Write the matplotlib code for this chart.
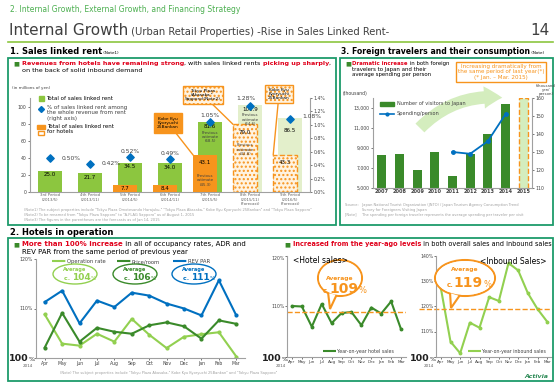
import numpy as np
import matplotlib.pyplot as plt
from matplotlib.patches import Rectangle, Ellipse, FancyArrowPatch, Polygon
from matplotlib.transforms import Affine2D
from matplotlib.lines import Line2D

# ---------------- data ----------------
periods = ["3rd Period\n(2013/5)", "4th Period\n(2013/11)", "5th Period\n(2014/5)",
           "6th Period\n(2014/11)", "7th Period\n(2015/5)",
           "8th Period\n(2015/11)\n(Forecast)", "9th Period\n(2016/5)\n(Forecast)"]
linked_rent = [25.0, 21.7, 34.5, 34.0, 81.6, 101.9, 86.5]
hotel_rent = [0, 0, 7.7, 8.4, 43.1, 79.0, 43.3]
rent_share = [0.50, 0.42, 0.52, 0.49, 1.05, 1.28, 1.08]
prev_total = [None, None, None, None, "68.5", "64.6", None]
prev_hotel = [None, None, None, None, "45.3", "42.8", None]
is_forecast = [False, False, False, False, False, True, True]

years = ["2007", "2008", "2009", "2010", "2011", "2012", "2013", "2014", "2015"]
visitors = [8347, 8351, 6790, 8611, 6219, 8358, 10364, 13413, 14000]
spending = [np.nan, np.nan, np.nan, np.nan, 130, 129, 136, 151, np.nan]

months = ["Apr", "May", "Jun", "Jul", "Aug", "Sep", "Oct", "Nov", "Dec", "Jan", "Feb", "Mar"]
occupancy = [108.8, 102.9, 102.5, 104.9, 103.3, 107.9, 104.7, 102.0, 104.3, 104.8, 105.2, 100.3]
price_room = [102.1, 109.1, 103.3, 106.1, 105.3, 104.9, 106.6, 107.2, 106.4, 103.9, 107.6, 106.9]
rev_par = [111.3, 113.6, 107.0, 111.6, 110.3, 113.2, 112.6, 111.0, 110.0, 108.6, 115.7, 108.6]
hotel_sales = [110.1, 110.0, 106.0, 110.5, 106.7, 108.7, 108.9, 106.3, 109.8, 108.6, 111.0, 105.5]
inbound_sales = [127.3, 106.1, 101.5, 113.6, 111.6, 123.7, 122.2, 137.2, 134.3, 125.3, 119.0, 114.0]
hotel_avg = 109
inbound_avg = 119

# ---------------- colours ----------------
GREEN = "#8cc63f"
LIGHT = "#e3efcb"
DARK = "#3a8a2a"
ORANGE = "#f7941d"
BLUE = "#0070c0"
FRAME = "#1e9b6b"
RED = "#e0001b"

W, H = 560, 388
fig = plt.figure(figsize=(5.6, 3.88), dpi=100)
T = Affine2D().scale(1 / W, -1 / H).translate(0, 1) + fig.transFigure


def px(x, y, w, h):
    return [x / W, 1 - (y + h) / H, w / W, h / H]


def txt(x, y, s, **kw):
    return fig.text(x, y, s, transform=T, **kw)


def rich(x, y, parts, size):
    r = fig.canvas.get_renderer()
    for s, kw in parts:
        opts = dict(fontsize=size, va="baseline")
        opts.update(kw)
        t = txt(x, y, s, **opts)
        x += t.get_window_extent(r).width * W / fig.bbox.width


def frame(x, y, w, h):
    fig.add_artist(Rectangle((x, y), w, h, transform=T, fill=False, ec=FRAME, lw=1.3))


def style(ax):
    ax.set_facecolor("none")
    for s in ["top", "right"]:
        ax.spines[s].set_visible(False)
    ax.spines["left"].set_color("#a0a0a0")
    ax.spines["bottom"].set_color("#a0a0a0")
    ax.tick_params(labelsize=3.3, colors="#404040", length=1.5, width=0.5, pad=1)


def right_axis(ax):
    axr = ax.twinx()
    axr.set_facecolor("none")
    for s in ["top", "left", "bottom"]:
        axr.spines[s].set_visible(False)
    axr.spines["right"].set_color("#a0a0a0")
    axr.tick_params(labelsize=3.3, colors="#404040", length=1.5, width=0.5, pad=1)
    return axr


def hundred(x, y):
    rich(x, y, [("100", dict(weight="bold", color="#202020")),
                ("%", dict(fontsize=4.5, color="#202020"))], 6.8)
    txt(x + 14, y + 6, "2014", fontsize=3, color="#606060", va="baseline")


# ---------------- header ----------------
txt(10, 12, "2. Internal Growth, External Growth, and Financing Strategy",
    fontsize=5.5, color="#4caf50", va="baseline")
rich(9, 35, [("Internal Growth", dict(color="#404040")),
             (" (Urban Retail Properties) -Rise in Sales Linked Rent-",
              dict(color="#404040", fontsize=7.2))], 11)
txt(550, 35, "14", fontsize=11, color="#404040", ha="right", va="baseline")
fig.add_artist(Line2D([8, 553], [42, 42], transform=T, color=GREEN, lw=1.2))

# ---------------- section 1: sales linked rent ----------------
rich(10, 54, [("1. Sales linked rent", dict(weight="bold")),
              (" (Note1)", dict(fontsize=3))], 6)
frame(8, 58, 328, 167)
txt(13, 65, "■", fontsize=4.5, color=DARK, va="baseline")
rich(22, 65, [("Revenues from hotels have remaining strong", dict(color=RED, weight="bold")),
              (", with sales linked rents ", {}),
              ("picking up sharply", dict(color=RED, weight="bold")),
              (",", {})], 4.6)
txt(22, 72, "on the back of solid inbound demand", fontsize=4.6, va="baseline")
txt(12, 89, "(in millions of yen)", fontsize=3, color="#404040", va="baseline")

ax1 = fig.add_axes(px(30, 98, 280, 94))
style(ax1)
x = np.arange(len(periods))
gcol = [LIGHT if f else GREEN for f in is_forecast]
ax1.bar(x, linked_rent, width=0.62, color=gcol, zorder=2)
for i, h in enumerate(hotel_rent):
    if h <= 0:
        continue
    if is_forecast[i]:
        ax1.bar(x[i] - 0.12, h, width=0.6, color="#fff3e0", ec=ORANGE, ls="--",
                lw=1, hatch="....", zorder=3)
    else:
        ax1.bar(x[i] - 0.12, h, width=0.6, color=ORANGE, zorder=3)
for i, v in enumerate(linked_rent):
    y0 = v - 2 if i != 6 else v - 12
    ax1.text(x[i], y0, f"{v:.1f}", ha="center", va="top", fontsize=4, zorder=5)
    if prev_total[i]:
        ax1.text(x[i], y0 - 8, f"Previous\nestimate\n({prev_total[i]})", ha="center",
                 va="top", fontsize=2.8, color="#404040", zorder=5, linespacing=1.1)
for i, h in enumerate(hotel_rent):
    if h <= 0:
        continue
    if h > 20:
        ax1.text(x[i] - 0.12, h - 6, f"{h:.1f}", ha="center", va="top", fontsize=4, zorder=5)
    else:
        ax1.text(x[i] - 0.12, h / 2, f"{h:.1f}", ha="center", va="center", fontsize=4, zorder=5)
    if prev_hotel[i]:
        ax1.text(x[i] - 0.12, h - 22, f"Previous\nestimate\n({prev_hotel[i]})", ha="center",
                 va="top", fontsize=2.8, color="#404040", zorder=5, linespacing=1.1)
ax1.set_xlim(-0.5, 6.5)
ax1.set_ylim(0, 110)
ax1.set_yticks(range(0, 101, 20))
ax1.set_xticks(x)
ax1.set_xticklabels(periods, fontsize=2.8, color="#606060", linespacing=1.1)
ax1.tick_params(axis="x", length=0)

ax1r = right_axis(ax1)
ax1r.set_ylim(0, 1.4)
ax1r.set_yticks(np.arange(0, 1.41, 0.2))
ax1r.set_yticklabels([f"{t:.1f}%" for t in np.arange(0, 1.41, 0.2)])
ax1r.scatter(x, rent_share, marker="D", s=14, color=BLUE, zorder=6)
offs = [(0.28, 0, "left"), (0.28, 0, "left"), (0, 0.09, "center"), (0, 0.09, "center"),
        (0, 0.09, "center"), (-0.1, 0.11, "center"), (0.3, 0.05, "left")]
for i, v in enumerate(rent_share):
    dx, dy, ha = offs[i]
    ax1r.text(x[i] + dx, v + dy, f"{v:.2f}%", ha=ha, va="center", fontsize=4.3, color="#404040")

# legend
fig.add_artist(Rectangle((39, 96), 4.5, 4.5, transform=T, color=GREEN))
txt(46, 100.5, "Total of sales linked rent", fontsize=4, va="baseline")
fig.add_artist(Line2D([41.2], [109], transform=T, marker="D", ms=3, color=BLUE))
txt(47, 105, "% of sales linked rent among\nthe whole revenue from rent\n(right axis)",
    fontsize=4, va="top", color="#404040", linespacing=1.1)
fig.add_artist(Rectangle((37, 125), 8, 4, transform=T, color=ORANGE))
fig.add_artist(Rectangle((38, 131), 6, 4, transform=T, fill=False, ec=ORANGE, lw=1))
txt(47, 124, "Total of sales linked rent\nfor hotels", fontsize=4, va="top", linespacing=1.1)

# callouts
ax1.annotate("Kobe Kyu\nKyoryuchi\n25Bankan", xy=(4 - 0.42, 43.1), xytext=(168 / W, 1 - 123 / H),
             textcoords="figure fraction", ha="center", va="center", fontsize=3.2, linespacing=1.1,
             bbox=dict(boxstyle="square,pad=0.8", fc=ORANGE, ec=ORANGE),
             arrowprops=dict(arrowstyle="-", color=ORANGE, lw=1, shrinkA=0, shrinkB=0), zorder=7)
ax1.annotate("Tokyu Plaza\n(Akasaka\u30fb\nSapporo)(Note2)", xy=(5 - 0.42, 79.0), xytext=(203 / W, 1 - 95 / H),
             textcoords="figure fraction", ha="center", va="center", fontsize=3.2, linespacing=1.1,
             family=["DejaVu Sans", "Noto Sans CJK JP"],
             bbox=dict(boxstyle="square,pad=0.5", fc="#fff3e0", ec=ORANGE, hatch="....", lw=1),
             arrowprops=dict(arrowstyle="-", color=ORANGE, lw=1, shrinkA=0, shrinkB=0), zorder=7)
ax1.annotate("Kobe Kyu\nKyoryuchi\n25Bankan", xy=(6 - 0.42, 43.3), xytext=(279 / W, 1 - 94 / H),
             textcoords="figure fraction", ha="center", va="center", fontsize=3.2, linespacing=1.1,
             bbox=dict(boxstyle="square,pad=0.7", fc="#fff3e0", ec=ORANGE, hatch="....", lw=1),
             arrowprops=dict(arrowstyle="-", color=ORANGE, lw=1, shrinkA=0, shrinkB=0), zorder=7)

txt(24, 208, "(Note1) The subject properties include \"Tokyu Plaza Omotesando Harajuku,\" \"Tokyu Plaza Akasaka,\" Kobe Kyu Kyoryuchi 25Bankan\" and \"Tokyu Plaza Sapporo\"\n"
    "(Note2) To be renamed from \"Tokyu Plaza Sapporo\" to \"A-FLAG Sapporo\" as of August 1, 2015\n"
    "(Note3) The figures in the parentheses are the forecasts as of Jan 14, 2015",
    fontsize=2.6, color="#a0a0a0", va="top", linespacing=1.3)

# ---------------- section 3: foreign travelers ----------------
rich(341, 54, [("3. Foreign travelers and their consumption", dict(weight="bold")),
               (" (Note)", dict(fontsize=3))], 5.6)
frame(340, 58, 213, 167)
txt(345, 65, "■", fontsize=4.5, color=DARK, va="baseline")
rich(352, 65, [("Dramatic increase", dict(color=RED, weight="bold")),
               (" in both foreign", {})], 3.9)
txt(352, 70.5, "travelers to Japan and their", fontsize=3.9, va="baseline")
txt(352, 76, "average spending per person", fontsize=3.9, va="baseline")
txt(501, 72, "Increasing dramatically from\nthe same period of last year(*)\n(* Jan. \u2013 Mar. 2015)",
    fontsize=4.1, color=ORANGE, ha="center", va="center", linespacing=1.1,
    bbox=dict(boxstyle="square,pad=0.3", fc="white", ec=ORANGE, lw=1))
txt(343, 95, "(thousand)", fontsize=3.3, color="#404040", va="baseline")
txt(546, 84, "(thousand\nyen/\nperson)", fontsize=2.8, color="#404040", ha="center", va="top",
    linespacing=1.0)

fig.add_artist(FancyArrowPatch((418, 130), (505, 98), transform=T,
                               connectionstyle="arc3,rad=-0.25",
                               arrowstyle="simple,head_width=16,head_length=13,tail_width=9",
                               color="#d4edbe", lw=0, zorder=-1))

ax3 = fig.add_axes(px(373, 98, 159, 90))
style(ax3)
xy = np.arange(len(years))
vcol = [DARK] * (len(years) - 1) + ["#d4edbe"]
bars = ax3.bar(xy, visitors, width=0.5, color=vcol, zorder=2)
bars[-1].set_edgecolor(ORANGE)
bars[-1].set_linestyle("--")
bars[-1].set_linewidth(1)
ax3.set_xlim(-0.5, 8.5)
ax3.set_ylim(5000, 14000)
ax3.set_yticks(range(5000, 13001, 2000))
ax3.set_yticklabels([f"{t:,}" for t in range(5000, 13001, 2000)])
ax3.set_xticks(xy)
ax3.set_xticklabels(years, fontsize=3.6, fontweight="bold", color="#404040")
ax3.tick_params(axis="x", length=0)
ax3r = right_axis(ax3)
ax3r.set_ylim(110, 160)
ax3r.set_yticks(range(110, 161, 10))
ax3r.plot(xy, spending, color=BLUE, lw=1.3, marker="o", ms=2.5, zorder=5)
fig.add_artist(Rectangle((380, 102), 14, 3.5, transform=T, color=DARK))
txt(397, 105.5, "Number of visitors to Japan", fontsize=3.6, va="baseline", color="#404040")
fig.add_artist(Line2D([380, 394], [114, 114], transform=T, color=BLUE, lw=1.2))
fig.add_artist(Line2D([387], [114], transform=T, color=BLUE, marker="o", ms=2))
txt(397, 115.5, "Spending/person", fontsize=3.6, va="baseline", color="#404040")
txt(345, 203, "Source:   Japan National Tourist Organization (JNTO) / Japan Tourism Agency Consumption Trend\n"
    "               Survey for Foreigners Visiting Japan\n"
    "[Note]     The spending per foreign traveler represents the average spending per traveler per visit",
    fontsize=2.6, color="#a0a0a0", va="top", linespacing=1.3)

# ---------------- section 2: hotels ----------------
txt(10, 235, "2. Hotels in operation", fontsize=6, weight="bold", va="baseline")
frame(8, 238, 545, 143)
txt(13, 246, "■", fontsize=4.5, color=DARK, va="baseline")
rich(22, 246, [("More than 100% increase", dict(color=RED, weight="bold")),
               (" in all of occupancy rates, ADR and", {})], 5)
txt(22, 254, "REV PAR from the same period of previous year", fontsize=5, va="baseline")
txt(284, 246, "■", fontsize=4.5, color=DARK, va="baseline")
rich(293, 246, [("Increased from the year-ago levels", dict(color=RED, weight="bold")),
                (" in both overall sales and inbound sales", {})], 4.7)

xm = np.arange(len(months))


def month_axes(rect, lo, hi, ticks):
    ax = fig.add_axes(px(*rect))
    style(ax)
    ax.set_xlim(-0.5, 11.5)
    ax.set_ylim(lo, hi)
    ax.set_yticks(ticks)
    ax.set_yticklabels([f"{t}%" if t != lo else "" for t in ticks])
    ax.set_xticks(xm)
    ax.set_xticklabels(months, fontsize=3.3)
    return ax


axh = month_axes((36, 259, 209, 99), 100, 120, [100, 110, 120])
axh.plot(xm, occupancy, color="#92d050", lw=1.5, marker="o", ms=2)
axh.plot(xm, price_room, color=DARK, lw=1.5, marker="o", ms=2)
axh.plot(xm, rev_par, color=BLUE, lw=1.5, marker="o", ms=2)
for x0, lab, c in [(52, "Operation rate", "#92d050"), (117, "Price/room", DARK), (173, "REV PAR", BLUE)]:
    fig.add_artist(Line2D([x0, x0 + 14], [261, 261], transform=T, color=c, lw=1.5, ls="-."))
    txt(x0 + 15, 263, lab, fontsize=3.8, va="baseline", color="#404040")
for cx, c, avg in [(75, "#92d050", "104"), (135, DARK, "106"), (194, BLUE, "111")]:
    fig.add_artist(Ellipse((cx, 274), 44, 20, transform=T, fc="white", ec=c, lw=1))
    txt(cx, 271, "Average", fontsize=3.6, color=c, weight="bold", ha="center", va="baseline")
    rich(cx - 11, 280, [("c. ", dict(color=c, weight="bold")),
                        (avg, dict(color=c, weight="bold", fontsize=6.5)),
                        ("%", dict(color=c, fontsize=4))], 4.5)
hundred(9, 361)
txt(60, 374, "(Note) The subject properties include \"Tokyu Plaza Akasaka,\" Kobe Kyu Kyoryuchi 25Bankan\" and \"Tokyu Plaza Sapporo\"",
    fontsize=2.6, color="#a0a0a0", va="baseline")

# hotel sales
axs = month_axes((287, 256, 119, 101), 100, 120, [100, 110, 120])
axs.set_xticklabels(months, fontsize=3)
axs.tick_params(axis="y", labelleft=False)
axs.plot(xm, hotel_sales, color=DARK, lw=1.5, marker="o", ms=1.8)
axs.axhline(hotel_avg, color=ORANGE, lw=1, ls="--")
txt(293, 263, "<Hotel sales>", fontsize=5.5, va="baseline")
txt(285, 258, "120%", fontsize=3.3, ha="right", va="center", color="#404040")
txt(285, 306, "110%", fontsize=3.3, ha="right", va="center", color="#404040")
fig.add_artist(Ellipse((340, 278), 44, 36, transform=T, fc="white", ec=ORANGE, lw=1.5))
fig.add_artist(Polygon([(328, 292), (337, 294), (330, 309)], transform=T,
                       fc="white", ec=ORANGE, lw=1.5, closed=True))
fig.add_artist(Ellipse((340, 278), 42, 34, transform=T, fc="white", ec="none"))
txt(340, 280, "Average", fontsize=4.3, color=ORANGE, weight="bold", ha="center", va="baseline")
rich(323, 293, [("c.", dict(color=ORANGE, weight="bold")),
                (str(hotel_avg), dict(color=ORANGE, weight="bold", fontsize=10)),
                ("%", dict(color=ORANGE, fontsize=6))], 5)
fig.add_artist(Line2D([323, 336], [351, 351], transform=T, color=DARK, lw=1.5, ls="-."))
txt(337, 352.5, "Year-on-year hotel sales", fontsize=3.4, va="baseline", color="#404040")
hundred(262, 361)

# inbound sales
axi = month_axes((436, 256, 116, 101), 100, 140, [100, 110, 120, 130, 140])
axi.set_xticklabels(months, fontsize=3)
axi.tick_params(axis="y", labelleft=False)
axi.plot(xm, inbound_sales, color="#92d050", lw=1.5, marker="o", ms=1.8)
axi.axhline(inbound_avg, color=ORANGE, lw=1, ls="--", xmin=-0.15, clip_on=False)
for v in [110, 120, 130, 140]:
    yv = 357 - (v - 100) * 2.52
    txt(434, yv, f"{v}%", fontsize=3.3, ha="right", va="center", color="#404040")
txt(480, 264, "<Inbound Sales>", fontsize=5.5, va="baseline")
fig.add_artist(Ellipse((465, 278), 60, 36, transform=T, fc="white", ec=ORANGE, lw=1.5))
fig.add_artist(Polygon([(450, 292), (460, 295), (451, 308)], transform=T,
                       fc="white", ec=ORANGE, lw=1.5, closed=True))
fig.add_artist(Ellipse((465, 278), 58, 34, transform=T, fc="white", ec="none"))
txt(465, 271, "Average", fontsize=4.3, color=ORANGE, weight="bold", ha="center", va="baseline")
rich(447, 287, [("c.", dict(color=ORANGE, weight="bold")),
                (str(inbound_avg), dict(color=ORANGE, weight="bold", fontsize=10)),
                ("%", dict(color=ORANGE, fontsize=6))], 5)
fig.add_artist(Line2D([468, 481], [351, 351], transform=T, color="#92d050", lw=1.5, ls="-."))
txt(482, 352.5, "Year-on-year inbound sales", fontsize=3.4, va="baseline", color="#404040")
hundred(410, 361)
txt(536, 378, "Activia", fontsize=4.5, color="#2e8b57", style="italic", weight="bold",
    ha="center", va="baseline")

fig.savefig("out.png", dpi=100)
